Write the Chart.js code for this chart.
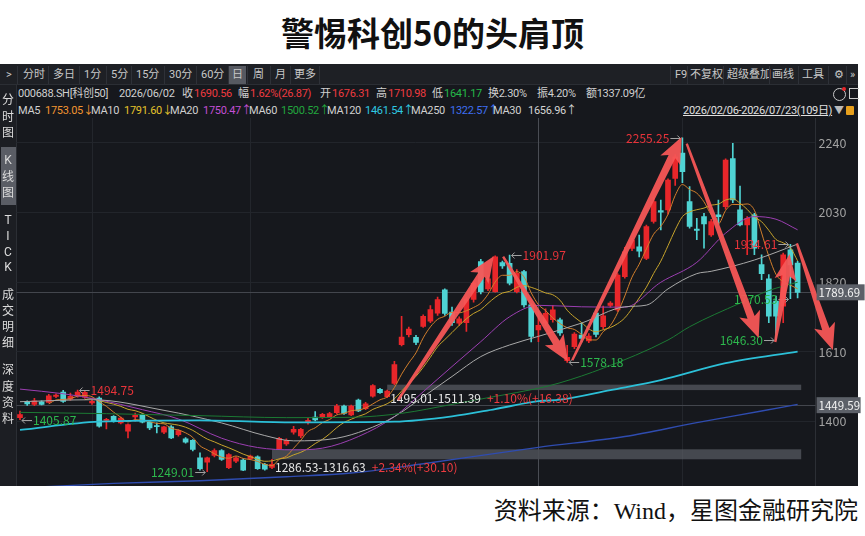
<!DOCTYPE html>
<html>
<head>
<meta charset="utf-8">
<script src="https://cdn.jsdelivr.net/npm/chart.js@4.4.1/dist/chart.umd.min.js"></script>
<style>
body{margin:0;background:#fff;width:865px;height:536px;overflow:hidden;position:relative;font-family:"Noto Sans CJK SC","Noto Sans",sans-serif}
#title{position:absolute;left:0;width:865px;top:13px;line-height:38px;text-align:center;font-size:33px;font-weight:bold;color:#111}
#panel{position:absolute;left:0;top:64px;width:858px;height:422px;background:#16181d}
#tb{position:absolute;left:0;top:0;width:858px;height:20px;background:#1e2025;border-bottom:1px solid #2b2e34}
#side{position:absolute;left:0;top:21px;width:16px;height:401px;background:#1c1e23;border-right:1px solid #2b2e34}
.t{position:absolute;white-space:nowrap;line-height:14px;font-size:11px;color:#d2d2d2;font-family:Roboto,"Noto Sans CJK SC",sans-serif;letter-spacing:-0.3px}
.sep{position:absolute;top:66px;width:1px;height:18px;background:#2e3138}
#src{position:absolute;right:7px;top:496px;line-height:30px;font-size:24px;color:#111;font-family:"Liberation Serif","Noto Sans CJK SC",serif}
canvas{position:absolute;left:0;top:118px}
</style>
</head>
<body>
<div id="title">警惕科创50的头肩顶</div>
<div id="panel"><div id="tb"></div><div id="side"></div></div>
<canvas id="c" width="865" height="368"></canvas>
<div id="src">资料来源：Wind，星图金融研究院</div>
<script>
// candles, 2026/02/06 - 2026/07/23
const open = [
  1412,1459,1452,1460,1458,1476,1489,1468,1478,1474,
  1456,1471,1404,1416,1396,1371,1414,1421,1398,1387,
  1368,1384,1361,1348,1344,1291,1278,1298,1313,1261,
  1281,1284,1288,1294,1271,1262,1318,1333,1368,1357,
  1397,1414,1414,1415,1427,1447,1420,1465,1439,1477,
  1497,1475,1515,1632,1662,1654,1687,1703,1727,1797,
  1730,1697,1698,1768,1882,1800,1792,1879,1877,1792,
  1852,1752,1676.31,1697,1707,1707,1584,1626,1661,1643,
  1727,1686,1750,1737,1837,1922,1927,1892,2003,2036,
  2038,2133,2209,2063,1980,2018,1963,2023,2048,2193,
  2038,1993,2023,1873,1830,1763,1748,1918,1878
];
const high = [
  1432,1463,1470,1463,1482,1484,1494,1486,1494.75,1491,
  1465,1475,1410,1418,1414,1393,1426,1424,1400,1396,
  1386,1388,1376,1352,1346,1306,1293,1318,1316,1304,
  1294,1288,1299,1297,1274,1286.53,1353,1348,1386,1380,
  1410,1430,1425,1428,1452,1450,1450,1468,1458,1512,
  1500,1495.01,1582,1717,1685,1660,1722,1750,1775,1800,
  1745,1716,1775,1822,1889,1840,1900,1884,1901.97,1858,
  1856,1756,1710.98,1740,1750,1712,1630,1668,1697,1665,
  1738,1748,1762,1846,1925,1952,1962,1992,2075,2068,
  2132,2205,2255.25,2108,2013,2028,2010,2068,2192,2239,
  2110,2018,2028,1903,1843,1778,1908,1934.61,1883
];
const low = [
  1405.87,1449,1448,1450,1456,1472,1458,1465,1474,1470,
  1452,1383,1378,1398,1393,1351,1401,1396,1376,1366,
  1364,1349,1356,1335,1312,1254,1249.01,1294,1283,1258,
  1276,1252,1285,1256,1254,1258,1316.63,1328,1362,1352,
  1392,1402,1410,1412,1424,1422,1418,1430,1436,1474,
  1485,1472,1511.39,1628,1655,1632,1684,1698,1720,1720,
  1690,1690,1672,1760,1785,1795,1790,1862,1812,1788,
  1745,1640,1641.17,1690,1700,1660,1578.18,1620,1640,1638,
  1655,1680,1745,1732,1832,1915,1896,1888,1998,1978,
  2025,2112,2120,1983,1948,1923,1958,1993,2040,2060,
  1990,1903,1903,1828,1698,1646.30,1698,1770.53,1773
];
const close = [
  1421,1453,1463,1452,1478,1480,1461,1476,1489,1488,
  1461,1386,1407,1401,1411,1391,1419,1398,1381,1385,
  1384,1351,1373,1338,1316,1258,1291,1313,1286,1301,
  1291,1254,1296,1258,1257,1271,1350,1344,1377,1377,
  1404,1405,1422,1424,1447,1425,1447,1432,1454,1509,
  1487,1492,1572,1655,1679,1639,1717,1738,1768,1726,
  1698,1710,1769,1817,1792,1830,1897,1869,1817,1847,
  1752,1657,1690.56,1726,1737,1667,1594,1664,1651,1658,
  1663,1719,1757,1842,1912,1947,1914,1988,2063,2031,
  2128,2198,2153,1988,1976,1996,2003,2018,2188,2068,
  1993,2013,1923,1846,1718,1718,1903,1872,1789.69
];

// longer moving averages at a few candles
const ma20At  = [0,6,11,17,22,28,33,38,42,47,52,56,60,64,68,72,78,84,89,94,98,102,105,108];
const ma20Val = [1498,1484,1466,1436,1408,1350,1322,1315,1320,1355,1415,1490,1566,1641,1716,1750.47,1746,1745,1820,1880,1968,2018,2010,1978];
const ma30At  = [0,10,20,28,34,38,44,48,52,56,60,64,68,72,78,84,87,90,94,96,102,108];
const ma30Val = [1460,1466,1434,1396,1358,1342,1350,1375,1415,1475,1536,1596,1631,1656.96,1697,1746,1751,1800,1846,1853,1887,1935];
const ma60At  = [0,12,25,37,46,53,60,66,72,75,81,90,93,100,104,108];
const ma60Val = [1428,1424,1418,1412,1413,1425,1452,1476,1500.52,1517,1561,1646,1686,1757,1795,1820];
const ma120At  = [0,11,25,38,52,60,66,72,75,82,89,98,108];
const ma120Val = [1375,1400,1404,1398,1400,1416,1438,1461.54,1466,1495,1525,1576,1611];
const ma250At  = [0,13,25,37,46,56,72,84,94,103,108];
const ma250Val = [1200,1214,1222,1234,1245,1273,1322.57,1355,1397,1432,1452];

const yTicks = [1400, 1610, 1820, 2030, 2240];
const days = open.map((_, i) => 'D' + (i + 1));

// support gaps, hand drawn arrows, marked highs/lows
const gapBands = [[35, 1286.53, 1316.63, '+2.34%(+30.10)'], [51, 1495.01, 1511.39, '+1.10%(+16.38)']];
const arrows = [
  [52.5, 1465, 65.8, 1898],
  [67.1, 1897, 76.1, 1581],
  [76.7, 1585, 91.9, 2258],
  [92.6, 2238, 102.6, 1652],
  [104.9, 1640, 106.9, 1905],
  [107.9, 1937, 112.9, 1616]
];
const marked = [[8,'h','r'],[0,'l','r'],[26,'l','l'],[68,'h','r'],[76,'l','r'],[92,'h','l'],[105,'l','l'],[107,'h','l'],[107,'l','l']];
const lastPrice = 1789.69, crossPrice = 1449.59, crossIdx = 72;
const monthLines = [10, 32, 92];

const RED = '#e8262a', CYAN = '#4fd3d3';
const FONT = '"Noto Sans CJK SC","Noto Sans",sans-serif';

function ma(arr, k) {
  return arr.map((_, i) => i < k - 1 ? null : arr.slice(i - k + 1, i + 1).reduce((a, b) => a + b, 0) / k);
}
function sparse(at, val) {
  const d = open.map(() => null);
  at.forEach((i, j) => d[i] = val[j]);
  return d;
}

// ---- header text ----
function put(x, y, s, color, size) {
  const d = document.createElement('div');
  d.className = 't';
  d.textContent = s;
  d.style.left = x + 'px';
  d.style.top = (y - 7) + 'px';
  if (color) d.style.color = color;
  if (size) d.style.fontSize = size + 'px';
  document.body.appendChild(d);
  return d;
}
const hl = document.createElement('div');
hl.style.cssText = 'position:absolute;left:228px;top:66px;width:18px;height:18px;background:#565961';
document.body.appendChild(hl);
[['>',6],['分时',23],['多日',53],['1分',84],['5分',111],['15分',136],['30分',169],['60分',201],['日',232],['周',253],['月',275],['更多',294],
 ['F9',675],['不复权',690],['超级叠加',727],['画线',772],['工具',802],['⚙',834],['»',850]].forEach(t => {
  const d = put(t[1], 75, t[0], '#c8c8c8', 11); d.style.letterSpacing = '0px';
});
[17,48,79,106,131,164,196,228,247,270,290,319,670,687,723,769,798,828,846].forEach(x => {
  const s = document.createElement('div'); s.className = 'sep'; s.style.left = x + 'px'; document.body.appendChild(s);
});
const G = '#d0d0d0', R = '#ee3b40', GR = '#25b84a';
[['000688.SH[科创50]',18,G],['2026/06/02',119,G],['收',182,G],['1690.56',194,R],['幅',238,G],['1.62%(26.87)',250,R],
 ['开',320,G],['1676.31',332,R],['高',376,G],['1710.98',388,R],['低',432,G],['1641.17',444,GR],
 ['换2.30%',488,G],['振4.20%',537,G],['额1337.09亿',586,G]].forEach(t => put(t[1], 94, t[0], t[2]));
[['MA5',18,G],['1753.05↓',45,'#f29430'],['MA10',91,G],['1791.60↓',124,'#e3c22b'],['MA20',170,G],['1750.47↑',203,'#c24fd4'],
 ['MA60',249,G],['1500.52↑',281,'#22a63e'],['MA120',327,G],['1461.54↑',365,'#2fc9e2'],['MA250',411,G],['1322.57↑',450,'#3e6ef2'],
 ['MA30',493,G],['1656.96↑',528,'#d4d4d4']].forEach(t => put(t[1], 111, t[0], t[2]));
const rng = put(683, 111, '2026/02/06-2026/07/23(109日)', '#e0e0e0');
rng.style.textDecoration = 'underline';
put(834, 111, '▼', '#bbbbbb', 10);
const lock = document.createElement('div');
lock.style.cssText = 'position:absolute;left:846px;top:106px;width:8px;height:9px;background:#e8a01c;border-radius:1px';
document.body.appendChild(lock);
const ic = document.createElement('div');
ic.style.cssText = 'position:absolute;left:833px;top:88px;width:11px;height:11px;border:1.5px solid #c9c9c9;border-radius:50%';
document.body.appendChild(ic);
const dot = document.createElement('div');
dot.style.cssText = 'position:absolute;left:842px;top:87px;width:4px;height:4px;background:#e8262a;border-radius:50%';
document.body.appendChild(dot);
const ic2 = document.createElement('div');
ic2.style.cssText = 'position:absolute;left:849px;top:88px;width:9px;height:9px;border:1.5px solid #c9c9c9;border-right:none';
document.body.appendChild(ic2);
// side tabs
const kb = document.createElement('div');
kb.style.cssText = 'position:absolute;left:1px;top:147px;width:15px;height:58px;background:#5a5d65';
document.body.appendChild(kb);
[['分',100],['时',117],['图',133],['K',160],['线',177],['图',193],['T',220],['I',236],['C',252],['K',267],
 ['成',295],['交',311],['明',327],['细',343],['深',370],['度',387],['资',403],['料',419]].forEach(t => {
  const d = put(2, t[1], t[0], '#dcdcdc', 12);
  d.style.width = '12px'; d.style.textAlign = 'center'; d.style.letterSpacing = '0px';
});

// ---- chart ----
function arrowShape(ctx, x1, y1, x2, y2) {
  const dx = x2 - x1, dy = y2 - y1, L = Math.hypot(dx, dy), ux = dx / L, uy = dy / L, px = -uy, py = ux;
  const hlen = 26, hw = 11, w0 = 1.2, w1 = 3.8;
  const bx = x2 - ux * hlen, by = y2 - uy * hlen;
  const nx = x2 - ux * (hlen - 4), ny = y2 - uy * (hlen - 4);
  ctx.beginPath();
  ctx.moveTo(x1 + px * w0, y1 + py * w0);
  ctx.lineTo(nx + px * w1, ny + py * w1);
  ctx.lineTo(bx + px * hw, by + py * hw);
  ctx.lineTo(x2, y2);
  ctx.lineTo(bx - px * hw, by - py * hw);
  ctx.lineTo(nx - px * w1, ny - py * w1);
  ctx.lineTo(x1 - px * w0, y1 - py * w0);
  ctx.closePath();
  ctx.fill();
}

const marks = {
  id: 'marks',
  beforeDatasetsDraw(c) {
    const ctx = c.ctx, a = c.chartArea, X = v => c.scales.x.getPixelForValue(v), Y = v => c.scales.y.getPixelForValue(v);
    ctx.save();
    ctx.strokeStyle = '#23262c'; ctx.lineWidth = 1;
    monthLines.forEach(i => { ctx.beginPath(); ctx.moveTo(Math.round(X(i)) + 0.5, a.top); ctx.lineTo(Math.round(X(i)) + 0.5, a.bottom); ctx.stroke(); });
    ctx.fillStyle = 'rgba(98,101,110,0.62)';
    gapBands.forEach(b => ctx.fillRect(X(b[0]), Y(b[2]), X(open.length - 1) + 3.6 - X(b[0]), Y(b[1]) - Y(b[2])));
    ctx.strokeStyle = '#43464d';
    [lastPrice, crossPrice].forEach(p => { const y = Math.round(Y(p)) + 0.5; ctx.beginPath(); ctx.moveTo(a.left, y); ctx.lineTo(a.right, y); ctx.stroke(); });
    ctx.strokeStyle = '#4a4d54';
    const cx = Math.round(X(crossIdx)) + 0.5;
    ctx.beginPath(); ctx.moveTo(cx, a.top); ctx.lineTo(cx, a.bottom); ctx.stroke();
    ctx.restore();
  },
  afterDatasetsDraw(c) {
    const ctx = c.ctx, a = c.chartArea, X = v => c.scales.x.getPixelForValue(v), Y = v => c.scales.y.getPixelForValue(v);
    ctx.save();
    ctx.font = '12px ' + FONT;
    ctx.textBaseline = 'middle';
    // gap band labels
    gapBands.forEach(b => {
      const x = X(b[0]) + 3, y = Y(b[1]) + 8;
      const s = b[1].toFixed(2) + '-' + b[2].toFixed(2);
      ctx.textAlign = 'left';
      ctx.fillStyle = '#e8e8e8'; ctx.fillText(s, x, y);
      ctx.fillStyle = '#ee3b40'; ctx.fillText(b[3], x + ctx.measureText(s).width + 6, y);
    });
    // high / low labels
    marked.forEach(m => {
      const i = m[0], v = m[1] === 'h' ? high[i] : low[i];
      const x = X(i), y = Math.round(Y(v)) + 0.5;
      ctx.strokeStyle = '#a0a0a0'; ctx.lineWidth = 1;
      const x0 = m[2] === 'r' ? x + 2 : x - 2, x1 = m[2] === 'r' ? x + 12 : x - 12, d = m[2] === 'r' ? 3 : -3;
      ctx.beginPath(); ctx.moveTo(x1, y); ctx.lineTo(x0, y);
      ctx.moveTo(x0 + d, y - 3); ctx.lineTo(x0, y); ctx.lineTo(x0 + d, y + 3); ctx.stroke();
      ctx.fillStyle = m[1] === 'h' ? '#e8343a' : '#2db84d';
      ctx.textAlign = m[2] === 'r' ? 'left' : 'right';
      ctx.fillText(v.toFixed(2), m[2] === 'r' ? x + 13 : x - 13, y);
    });
    // red hand-drawn arrows
    ctx.fillStyle = 'rgba(246,86,86,0.95)';
    arrows.forEach(r => arrowShape(ctx, X(r[0]), Y(r[1]), X(r[2]), Y(r[3])));
    // price boxes on the axis
    ctx.font = '11.5px ' + FONT;
    [[lastPrice, 48], [crossPrice, 44]].forEach(p => {
      const y = Y(p[0]);
      ctx.fillStyle = '#5c6068'; ctx.fillRect(a.right + 1, y - 8, p[1], 16);
      ctx.fillStyle = '#f2f2f2'; ctx.textAlign = 'left';
      ctx.fillText(p[0].toFixed(2), a.right + 3, y + 0.5);
    });
    ctx.restore();
  }
};

Chart.defaults.font.family = FONT;
const candleColor = open.map((o, i) => close[i] >= o ? RED : CYAN);
const line = (label, data, color, w, order) => ({
  type: 'line', label, data, borderColor: color, borderWidth: w, pointRadius: 0,
  spanGaps: true, cubicInterpolationMode: 'monotone', order
});

new Chart(document.getElementById('c'), {
  type: 'bar',
  data: {
    labels: days.concat(['', '']),
    datasets: [
      { label: 'wick', data: low.map((l, i) => [l, high[i]]), backgroundColor: candleColor, barThickness: 1, grouped: false, order: 3 },
      { label: 'body', data: open.map((o, i) => [o, close[i]]), backgroundColor: candleColor, barThickness: 5, grouped: false, minBarLength: 1, order: 2 },
      line('MA250', sparse(ma250At, ma250Val), '#2f4cb0', 1.4, 1),
      line('MA120', sparse(ma120At, ma120Val), '#2cc0d8', 1.8, 1),
      line('MA60', sparse(ma60At, ma60Val), '#1c7a34', 1, 1),
      line('MA30', sparse(ma30At, ma30Val), '#a9a9a9', 1, 1),
      line('MA20', sparse(ma20At, ma20Val), '#9c3fb2', 1, 1),
      line('MA10', ma(close, 10), '#c7a42c', 1, 1),
      line('MA5', ma(close, 5), '#d27f2c', 1, 1)
    ]
  },
  options: {
    responsive: false,
    animation: false,
    events: [],
    layout: { padding: { left: 16.4, right: 0, top: 0, bottom: 0 } },
    plugins: { legend: { display: false }, tooltip: { enabled: false } },
    scales: {
      x: { display: false, offset: true, grid: { display: false } },
      y: {
        position: 'right', min: 1206, max: 2315,
        afterBuildTicks: s => { s.ticks = yTicks.map(v => ({ value: v })); },
        afterFit: s => { s.width = 49.4; s.paddingTop = 0; s.paddingBottom = 0; },
        grid: { color: '#22252b', drawTicks: false },
        border: { color: '#2c2f35' },
        ticks: { color: '#a0a0a0', padding: 3, font: { size: 12.5 }, callback: v => String(v) }
      }
    }
  },
  plugins: [marks]
});
</script>
</body>
</html>
